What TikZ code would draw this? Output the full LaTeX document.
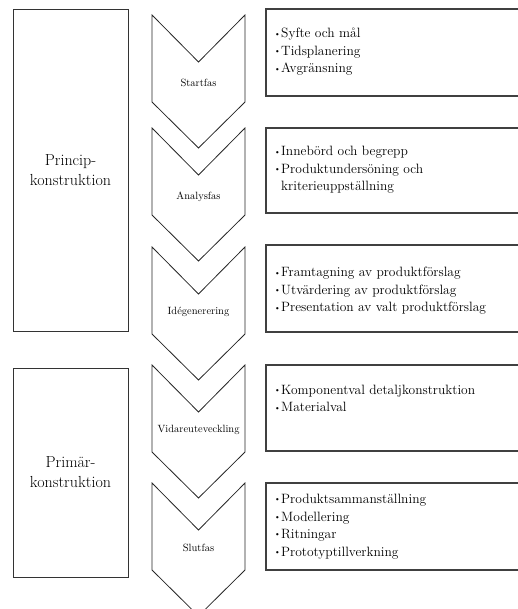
\documentclass[tikz,border=0pt]{standalone}
\usepackage{tikz}

\tikzset{
  chev/.style={draw=black!85, line width=0.8pt, line join=miter},
  fas/.style={font=\fontsize{10.5}{12}\selectfont, inner sep=0pt},
  phase/.style={draw=black!80, line width=0.8pt, align=center,
    font=\fontsize{16}{20}\selectfont, minimum width=115pt},
  infobox/.style={draw=black!75, line width=1.1pt},
  list/.style={align=left, font=\fontsize{13.5}{17.5}\selectfont,
    inner sep=0pt, anchor=west}
}
\newcommand{\pkt}{\makebox[7pt][l]{\raisebox{0.3ex}{\fontsize{8}{8}\selectfont\textbullet}}}

\begin{document}
\begin{tikzpicture}[x=1pt, y=-1pt]
    \useasboundingbox (0,0) rectangle (518,609);

    % left column
    \node[phase, minimum height=322pt] (princip) at (70.5,170) {Princip-\\konstruktion};
    \node[phase, minimum height=209pt] (primar) at (70.5,472.5) {Primär-\\konstruktion};

    % chevrons
    \foreach \y/\ly/\name/\txt in {15/83/start/Startfas, 128/197/analys/Analysfas,
        247/312/ide/Idégenerering, 365/430/vidare/Vidareuteveckling, 483/548/slut/Slutfas} {
      \draw[chev] (152,\y) -- ++(46.5,47) -- ++(46.5,-47) -- ++(0,87)
        -- ++(-46.5,46) -- ++(-46.5,-46) -- cycle;
      \node[fas] (\name) at (198.5,\ly) {\txt};
    }

    % right column
    \draw[infobox] (266,9) rectangle (530,96);
    \draw[infobox] (266,128) rectangle (530,213);
    \draw[infobox] (266,245) rectangle (530,332);
    \draw[infobox] (266,365) rectangle (530,451);
    \draw[infobox] (266,483) rectangle (530,570);

    \node[list] (startlist) at (274,52) {\pkt Syfte och mål\\ \pkt Tidsplanering\\ \pkt Avgränsning};
    \node[list] (analyslist) at (274,170) {\pkt Innebörd och begrepp\\ \pkt Produktundersöning och\\ \hspace{7pt}kriterieuppställning};
    \node[list] (idelist) at (274,291) {\pkt Framtagning av produktförslag\\ \pkt Utvärdering av produktförslag\\ \pkt Presentation av valt produktförslag};
    \node[list] (vidarelist) at (274,398.5) {\pkt Komponentval detaljkonstruktion\\ \pkt Materialval};
    \node[list] (slutlist) at (274,526.5) {\pkt Produktsammanställning\\ \pkt Modellering\\ \pkt Ritningar\\ \pkt Prototyptillverkning};
\end{tikzpicture}
\end{document}
